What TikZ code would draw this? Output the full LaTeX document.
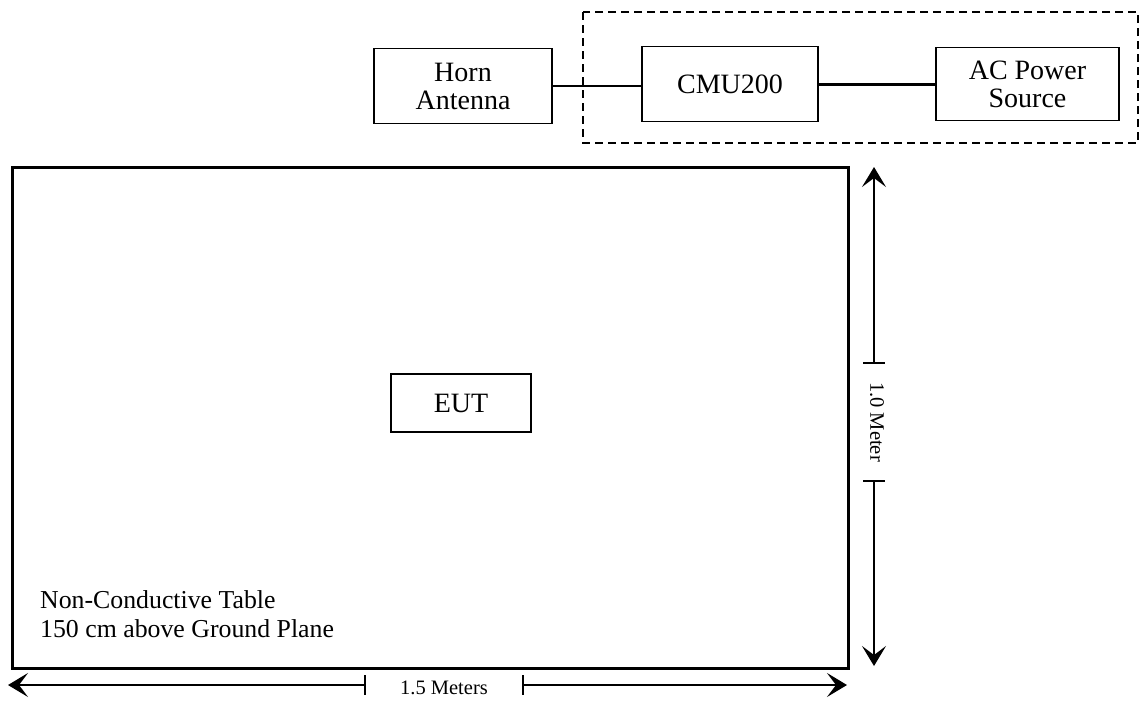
\documentclass[tikz,border=0pt]{standalone}
\usepackage{fontspec}
\setmainfont{Liberation Serif}
\usetikzlibrary{arrows.meta}
\tikzset{
  unitbox/.style={draw, line width=1.5pt, inner sep=0pt, align=center, font=\fontsize{28}{28}\selectfont},
  dimline/.style={line width=1.5pt, -{Stealth[length=20pt,width=24pt,inset=9pt]}},
  dimtick/.style={line width=1.5pt},
  dimtext/.style={font=\fontsize{20.5}{22}\selectfont, inner sep=0pt}
}
\begin{document}
\begin{tikzpicture}[x=1pt,y=1pt,yscale=-1]
\useasboundingbox (0,0) rectangle (1144,702);

%Shape: Dashed frame round the test set
\draw [line width=1.5pt, dash pattern={on 8pt off 5pt}] (583,12) rectangle (1138,143) ;

% Text Node
\node [unitbox, minimum width=178, minimum height=75] (horn) at (463,86) {Horn\\Antenna};
% Text Node
\node [unitbox, minimum width=176, minimum height=75] (cmu) at (730,84) {CMU200};
% Text Node
\node [unitbox, minimum width=183, minimum height=73] (acsrc) at (1027.5,84) {AC Power\\Source};

%Straight Lines
\draw [line width=1.5pt] (horn.east) -- (horn.east -| cmu.west) ;
\draw [line width=3pt] (cmu.east) -- (acsrc.west) ;

%Shape: Table
\draw [line width=3pt] (12,167) rectangle (848,668) ;

% Text Node
\node [unitbox, minimum width=140, minimum height=58] (eut) at (461,403) {EUT};
% Text Node
\node [anchor=west, align=left, inner sep=0pt, font=\fontsize{25.8}{29}\selectfont] (tablenote) at (40,614) {Non-Conductive Table\\150 cm above Ground Plane};

%Dimension: depth
\coordinate (vtop) at (874,167);
\coordinate (vbot) at (874,666);
\coordinate (vtickA) at (874,363);
\coordinate (vtickB) at (874,481);
\node [dimtext, rotate=-90] (vlabel) at (877,422) {1.0 Meter};
\draw [dimline] (vtickA) -- (vtop) ;
\draw [dimline] (vtickB) -- (vbot) ;
\draw [dimtick] ([xshift=-11pt]vtickA) -- ([xshift=11pt]vtickA) ;
\draw [dimtick] ([xshift=-11pt]vtickB) -- ([xshift=11pt]vtickB) ;

%Dimension: width
\coordinate (hleft) at (8,685);
\coordinate (hright) at (847,685);
\coordinate (htickA) at (365,685);
\coordinate (htickB) at (523,685);
\node [dimtext] (hlabel) at (444,688) {1.5 Meters};
\draw [dimline] (htickA) -- (hleft) ;
\draw [dimline] (htickB) -- (hright) ;
\draw [dimtick] ([yshift=-10pt]htickA) -- ([yshift=10pt]htickA) ;
\draw [dimtick] ([yshift=-10pt]htickB) -- ([yshift=10pt]htickB) ;

\end{tikzpicture}
\end{document}
